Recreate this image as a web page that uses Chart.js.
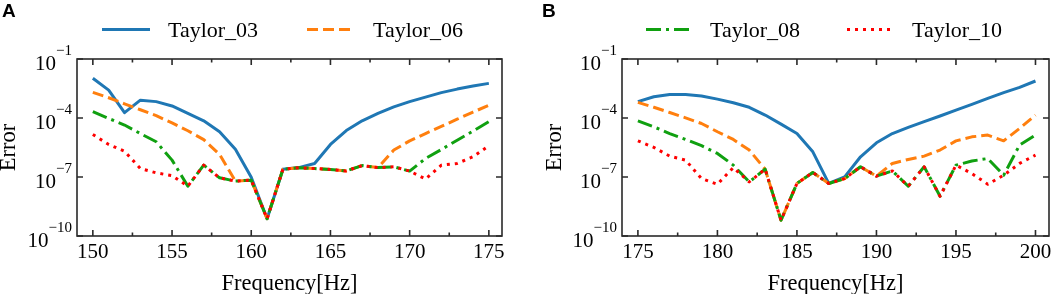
<!DOCTYPE html>
<html><head><meta charset="utf-8">
<script src="https://cdn.jsdelivr.net/npm/chart.js@4.4.1/dist/chart.umd.min.js"></script>
<style>
html,body{margin:0;padding:0;background:#fff;}
#wrap{position:relative;width:1052px;height:294px;overflow:hidden;background:#fff;}
canvas{position:absolute;top:0;}
</style></head><body>
<div id="wrap">
<canvas id="cA" width="526" height="294" style="left:0px"></canvas>
<canvas id="cB" width="526" height="294" style="left:526px"></canvas>
</div>
<script>
// ---------- data ----------
const freqA = [150,151,152,153,154,155,156,157,158,159,160,161,162,163,164,165,166,167,168,169,170,171,172,173,174,175];
const freqB = [175,176,177,178,179,180,181,182,183,184,185,186,187,188,189,190,191,192,193,194,195,196,197,198,199,200];

const taylor03A = [1.05e-2,2.6e-3,1.86e-4,8.1e-4,6.8e-4,4.1e-4,1.7e-4,7.2e-5,2.0e-5,2.6e-6,9.8e-8,7.6e-10,2.5e-7,3.0e-7,4.9e-7,4.5e-6,2.3e-5,7.2e-5,1.7e-4,3.7e-4,6.8e-4,1.15e-3,1.95e-3,2.95e-3,4.2e-3,5.75e-3];
const taylor06A = [2.0e-3,1.07e-3,5.25e-4,2.63e-4,1.32e-4,5.6e-5,2.24e-5,7.9e-6,1.41e-6,6.2e-8,6.9e-8,7.6e-10,2.5e-7,2.95e-7,2.7e-7,2.4e-7,2.04e-7,3.8e-7,3.0e-7,2.34e-6,6.9e-6,1.62e-5,3.7e-5,8.7e-5,2.0e-4,4.4e-4];
const taylor08A = [2.1e-4,9.5e-5,4.4e-5,1.62e-5,6.2e-6,7.2e-7,3.4e-8,4.0e-7,9.1e-8,6.2e-8,6.9e-8,7.6e-10,2.5e-7,2.95e-7,2.7e-7,2.4e-7,2.04e-7,3.8e-7,3.0e-7,3.3e-7,2.0e-7,8.7e-7,2.5e-6,7.4e-6,2.14e-5,6.5e-5];
const taylor10A = [1.45e-5,4.5e-6,2.04e-6,2.7e-7,1.62e-7,1.17e-7,3.4e-8,4.0e-7,9.1e-8,6.2e-8,6.9e-8,7.6e-10,2.5e-7,2.95e-7,2.7e-7,2.4e-7,2.04e-7,3.8e-7,3.0e-7,3.3e-7,2.0e-7,7.9e-8,4.0e-7,4.9e-7,1.07e-6,3.9e-6];

const taylor03B = [6.8e-4,1.2e-3,1.58e-3,1.58e-3,1.32e-3,9.1e-4,6.0e-4,3.5e-4,1.41e-4,4.9e-5,1.62e-5,1.9e-6,4.7e-8,1.02e-7,1.07e-6,5.5e-6,1.62e-5,3.3e-5,6.5e-5,1.26e-4,2.5e-4,4.9e-4,1.0e-3,1.95e-3,3.6e-3,7.6e-3];
const taylor06B = [6.2e-4,3.5e-4,1.9e-4,1.02e-4,5.25e-5,2.0e-5,8.1e-6,2.34e-6,2.5e-7,6.3e-10,4.7e-8,1.7e-7,4.7e-8,8.3e-8,3.3e-7,1.1e-7,4.9e-7,7.8e-7,1.15e-6,2.34e-6,6.9e-6,1.1e-5,1.35e-5,6.9e-6,2.95e-5,1.41e-4];
const taylor08B = [7.2e-5,3.55e-5,1.62e-5,8.1e-6,3.9e-6,1.58e-6,4.0e-7,5.6e-8,2.5e-7,6.3e-10,4.7e-8,1.7e-7,4.7e-8,8.3e-8,3.3e-7,1.1e-7,2.04e-7,3.4e-8,3.3e-7,1.05e-8,4.0e-7,6.5e-7,8.7e-7,1.23e-7,4.2e-6,1.35e-5];
const taylor10B = [6.9e-6,3.2e-6,1.15e-6,7.2e-7,8.3e-8,4.3e-8,3.0e-7,5.6e-8,2.5e-7,6.3e-10,4.7e-8,1.7e-7,4.7e-8,8.3e-8,3.3e-7,1.1e-7,2.04e-7,3.4e-8,3.3e-7,1.05e-8,4.0e-7,1.5e-7,4.3e-8,1.23e-7,4.9e-7,1.3e-6];

const seriesNames = ['Taylor_03','Taylor_06','Taylor_08','Taylor_10'];
const xTicksA = [150,155,160,165,170,175];
const xMinorA = [152.5,157.5,162.5,167.5,172.5];
const xTicksB = [175,180,185,190,195,200];
const xMinorB = [177.5,182.5,187.5,192.5,197.5];
const yTickValues = [1e-10,1e-7,1e-4,1e-1];
const yTickExponents = ['\u221210','\u22127','\u22124','\u22121'];

// ---------- styles ----------
const SERIF = '"Liberation Serif","Times New Roman",serif';
const lineStyles = [
  {color:'#1f77b4', dash:[]},
  {color:'#ff7f0e', dash:[11,5]},
  {color:'#10a010', dash:[15,5,3,5]},
  {color:'#ff0000', dash:[3,5]}
];

const decoPlugin = {
  id: 'deco',
  afterDraw(chart, args, o) {
    const ctx = chart.ctx, ca = chart.chartArea;
    const xs = chart.scales.x, ys = chart.scales.y;
    ctx.save();
    ctx.setLineDash([]);
    ctx.strokeStyle = '#2a2a2a';
    ctx.lineWidth = 1.6;
    ctx.strokeRect(ca.left, ca.top, ca.right - ca.left, ca.bottom - ca.top);
    ctx.beginPath();
    o.xMajor.forEach(v => {
      const px = xs.getPixelForValue(v);
      ctx.moveTo(px, ca.bottom); ctx.lineTo(px, ca.bottom - 6);
      ctx.moveTo(px, ca.top); ctx.lineTo(px, ca.top + 6);
    });
    o.xMinor.forEach(v => {
      const px = xs.getPixelForValue(v);
      ctx.moveTo(px, ca.bottom); ctx.lineTo(px, ca.bottom - 3.5);
      ctx.moveTo(px, ca.top); ctx.lineTo(px, ca.top + 3.5);
    });
    yTickValues.forEach(v => {
      const py = ys.getPixelForValue(v);
      ctx.moveTo(ca.left, py); ctx.lineTo(ca.left + 6, py);
      ctx.moveTo(ca.right, py); ctx.lineTo(ca.right - 6, py);
    });
    ctx.stroke();

    // y tick labels 10^n
    ctx.fillStyle = '#000';
    ctx.textBaseline = 'alphabetic';
    ctx.textAlign = 'right';
    yTickValues.forEach((v, i) => {
      const py = ys.getPixelForValue(v);
      ctx.font = '15px ' + SERIF;
      const ex = yTickExponents[i];
      const ew = ctx.measureText(ex).width;
      const right = ca.left - 5;
      ctx.fillText(ex, right, py - 4.5);
      ctx.font = '21px ' + SERIF;
      ctx.fillText('10', right - ew, py + 10.5);
    });

    // legend
    ctx.textAlign = 'left';
    ctx.font = '22px ' + SERIF;
    o.legend.forEach(it => {
      const ds = chart.data.datasets[it.i];
      ctx.strokeStyle = ds.borderColor;
      ctx.lineWidth = 3;
      ctx.lineCap = 'butt';
      ctx.setLineDash(ds.borderDash || []);
      ctx.beginPath();
      ctx.moveTo(it.x1, 29.5); ctx.lineTo(it.x2, 29.5);
      ctx.stroke();
      ctx.fillStyle = '#000';
      ctx.fillText(ds.label, it.tx, 37);
    });
    ctx.setLineDash([]);

    // panel letter
    ctx.font = 'bold 19px "Liberation Sans",Arial,sans-serif';
    ctx.fillStyle = '#000';
    ctx.fillText(o.letter, o.letterX, 17);
    ctx.restore();
  }
};

function makeDatasets(freq, seriesList) {
  return seriesList.map((vals, k) => ({
    label: seriesNames[k],
    data: freq.map((f, i) => ({x: f, y: vals[i]})),
    borderColor: lineStyles[k].color,
    borderDash: lineStyles[k].dash,
    borderWidth: 3,
    borderJoinStyle: 'round',
    pointRadius: 0,
    tension: 0,
    fill: false,
    order: 4 - k
  }));
}

function makeChart(id, freq, seriesList, cfg) {
  return new Chart(document.getElementById(id), {
    type: 'line',
    data: { datasets: makeDatasets(freq, seriesList) },
    plugins: [decoPlugin],
    options: {
      responsive: false,
      animation: false,
      devicePixelRatio: 1,
      layout: { padding: { top: 59, right: cfg.padRight, bottom: 0, left: 0 } },
      plugins: {
        legend: { display: false },
        tooltip: { enabled: false },
        title: { display: false },
        deco: { xMajor: cfg.xMajor, xMinor: cfg.xMinor, legend: cfg.legend, letter: cfg.letter, letterX: cfg.letterX }
      },
      scales: {
        x: {
          type: 'linear',
          min: cfg.xmin, max: cfg.xmax,
          afterBuildTicks: s => { s.ticks = cfg.xMajor.map(v => ({value: v})); },
          afterFit: s => { s.height = 58; s.paddingLeft = 0; s.paddingRight = 0; },
          grid: { display: false, drawTicks: false },
          border: { display: false },
          ticks: { color: '#000', font: { family: SERIF, size: 21 }, padding: 4, maxRotation: 0, autoSkip: false },
          title: { display: true, text: 'Frequency[Hz]', color: '#000', font: { family: SERIF, size: 22.5, lineHeight: 0.89 }, padding: { top: 0, bottom: 0 } }
        },
        y: {
          type: 'logarithmic',
          min: 1e-10, max: 1e-1,
          afterFit: s => { s.width = cfg.yWidth; s.paddingTop = 0; s.paddingBottom = 0; },
          grid: { display: false, drawTicks: false },
          border: { display: false },
          ticks: { display: false },
          title: { display: true, text: 'Error', color: '#000', font: { family: SERIF, size: 22.5, lineHeight: 0.81 }, padding: { top: cfg.yTitlePad, bottom: 0 } }
        }
      }
    }
  });
}

makeChart('cA', freqA, [taylor03A, taylor06A, taylor08A, taylor10A], {
  xmin: 149, xmax: 175.83, yWidth: 77, padRight: 24, yTitlePad: 0,
  xMajor: xTicksA, xMinor: xMinorA, letter: 'A', letterX: 2,
  legend: [{i:0, x1:102, x2:150, tx:168}, {i:1, x1:307, x2:352, tx:373}]
});
makeChart('cB', freqB, [taylor03B, taylor06B, taylor08B, taylor10B], {
  xmin: 174, xmax: 200.85, yWidth: 96, padRight: 3, yTitlePad: 20,
  xMajor: xTicksB, xMinor: xMinorB, letter: 'B', letterX: 16,
  legend: [{i:2, x1:120, x2:166, tx:184}, {i:3, x1:321, x2:364, tx:386}]
});
</script>
</body></html>
